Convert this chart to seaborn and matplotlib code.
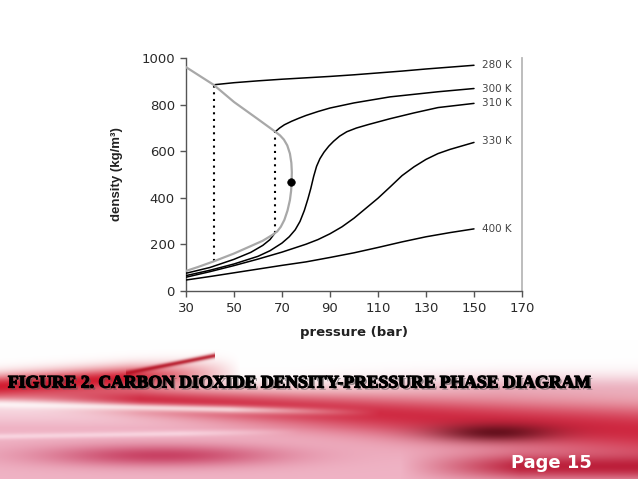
import numpy as np
import pandas as pd
import matplotlib
matplotlib.use("Agg")
import matplotlib.pyplot as plt
import matplotlib.patheffects as pe
import seaborn as sns

# ---------------- data ----------------
sat_p = [30, 35, 41.5, 50, 57, 62, 66, 68.0, 69.5, 71.0, 72.3, 73.3, 73.8, 74.0, 74.1, 73.9, 73.3, 72.2, 70.8, 69.2, 67.2, 60, 50, 41.5, 30]
sat_rho = [85, 102, 126, 160, 192, 215, 240, 255, 275, 305, 345, 390, 430, 469, 510, 550, 590, 625, 650, 668, 684, 738, 812, 886, 962]

p280 = [41.5, 50, 60, 70, 80, 90, 100, 110, 120, 130, 140, 150]
rho280 = [886, 895, 903, 910, 916, 922, 929, 937, 945, 954, 962, 970]

p300_vap = [30, 40, 50, 57, 62, 65, 67.2]
rho300_vap = [75, 100, 135, 165, 195, 220, 250]
p300_liq = [67.2, 69, 71, 74, 77, 80, 85, 90, 100, 115, 135, 150]
rho300_liq = [684, 700, 714, 729, 742, 754, 771, 786, 808, 834, 856, 870]

p310 = [30, 40, 50, 60, 65, 70, 73, 75.5, 77.5, 79.3, 80.8, 82, 83.2, 84.4, 85.8, 87.5, 89.5, 91.5, 94, 97, 101, 106, 115, 125, 135, 150]
rho310 = [65, 88, 115, 148, 172, 205, 232, 262, 298, 345, 395, 440, 492, 535, 568, 596, 622, 643, 665, 684, 700, 715, 740, 765, 788, 806]

p330 = [30, 40, 50, 60, 70, 80, 85, 90, 95, 100, 105, 110, 115, 120, 125, 130, 135, 140, 145, 150]
rho330 = [58, 82, 108, 136, 166, 200, 220, 245, 275, 312, 355, 398, 446, 495, 533, 565, 590, 608, 623, 638]

p400 = [30, 40, 50, 60, 70, 80, 90, 100, 110, 120, 130, 140, 150]
rho400 = [46, 61, 77, 93, 109, 124, 143, 163, 186, 210, 232, 250, 266]

tie_p = [41.5, 67.2]
tie_low = [126, 250]
tie_high = [886, 684]

crit_p = [73.6]
crit_rho = [469]

labels = ["280 K", "300 K", "310 K", "330 K", "400 K"]
label_rho = [971, 869, 808, 646, 265]

xticks = [30, 50, 70, 90, 110, 130, 150, 170]
yticks = [0, 200, 400, 600, 800, 1000]

caption = "FIGURE 2. CARBON DIOXIDE DENSITY-PRESSURE PHASE DIAGRAM"
page = "Page 15"

# ---------------- figure ----------------
sns.set_theme(style="ticks")
plt.rcParams["font.family"] = ["DejaVu Sans"]

W, H = 638, 479
fig = plt.figure(figsize=(W / 100, H / 100), dpi=100)

# decorative background (slide swoosh)
bg = fig.add_axes([0, 0, 1, 1], zorder=-5)
bg.set_xlim(0, W)
bg.set_ylim(H, 0)
bg.axis("off")
yy, xx = np.mgrid[340:H, 0:W].astype(float)
img = np.ones(yy.shape + (3,))


def blend(im, w, color):
    w = np.clip(w, 0, 1)[..., None]
    return im * (1 - w) + np.array(color) * w


# general pink wash
img = blend(img, 0.62 * np.clip((yy - 392) / 35, 0, 1), (0.90, 0.52, 0.63))
# soft pink top-right
img = blend(img, 0.6 * np.exp(-((yy - 388) / 14) ** 2) * np.clip((xx - 300) / 200, 0, 1), (0.90, 0.62, 0.70))
# left red behind caption
yl = 386 - 14 * np.clip(xx / 220, 0, 1)
img = blend(img, 0.95 * np.exp(-((yy - yl) / 12) ** 2) * np.clip((240 - xx) / 110, 0, 1), (0.82, 0.07, 0.15))
# main red band
yc = 392 + 38 * (xx / W) ** 1.1
wd = 9 + 20 * (xx / W)
img = blend(img, 0.9 * np.exp(-((yy - yc) / wd) ** 2) * np.clip(xx / 200 + 0.3, 0, 1), (0.80, 0.10, 0.20))
# dark core
img = blend(img, 0.8 * np.exp(-((yy - 432) / 9) ** 2 - ((xx - 495) / 60) ** 2), (0.30, 0.02, 0.06))
# white streaks
img = blend(img, 0.75 * np.exp(-((yy - (404 + 14 * xx / W)) / 4) ** 2) * np.clip((380 - xx) / 150, 0, 1), (1, 1, 1))
img = blend(img, 0.6 * np.exp(-((yy - (436 - 10 * xx / W)) / 3) ** 2) * np.clip((300 - xx) / 120, 0, 1), (1, 0.92, 0.95))
# bottom-left red-pink
img = blend(img, 0.8 * np.exp(-((yy - 455) / 11) ** 2 - ((xx - 160) / 120) ** 2), (0.75, 0.15, 0.30))
# bottom-right red
img = blend(img, 0.9 * np.exp(-((yy - 466) / 13) ** 2) * np.clip((xx - 400) / 120, 0, 1), (0.72, 0.07, 0.18))
# thin swoosh top-left
yc3 = 372 - 16 * ((xx - 130) / 80)
img = blend(img, 0.85 * np.exp(-((yy - yc3) / 2.5) ** 2) * ((xx > 125) & (xx < 215)), (0.70, 0.05, 0.12))
bg.imshow(img, extent=(0, W, H, 340), aspect="auto", interpolation="bilinear")

# chart axes
ax = fig.add_axes([186 / W, 1 - 290.7 / H, (522 - 186) / W, (290.7 - 58.3) / H])
ax.set_facecolor("none")


def line(p, r, **kw):
    df = pd.DataFrame({"p": p, "rho": r})
    sns.lineplot(data=df, x="p", y="rho", sort=False, estimator=None, ax=ax, **kw)


for p, r in [(p400, rho400), (p330, rho330), (p310, rho310), (p300_vap, rho300_vap),
             (p300_liq, rho300_liq), (p280, rho280)]:
    line(p, r, color="black", lw=1.1, zorder=3)
line(sat_p, sat_rho, color="#a8a8a8", lw=1.6, zorder=4)

for tp, lo, hi in zip(tie_p, tie_low, tie_high):
    ax.plot([tp, tp], [lo, hi], color="black", lw=1.5, ls=(0, (1, 2.2)), zorder=3)

sns.scatterplot(x=crit_p, y=crit_rho, color="black", s=30, ax=ax, zorder=5, edgecolor="black")

for lab, r in zip(labels, label_rho):
    ax.text(153.5, r, lab, fontsize=7.5, color="#444444", va="center", ha="left")

ax.set_xlim(30, 170)
ax.set_ylim(0, 1000)
ax.set_xticks(xticks)
ax.set_yticks(yticks)
ax.tick_params(direction="out", length=4, width=1, color="#555555", labelsize=9.5,
               labelcolor="#2a2a2a", pad=4)
for s in ["left", "bottom"]:
    ax.spines[s].set_color("#555555")
    ax.spines[s].set_linewidth(1.0)
ax.spines["top"].set_visible(False)
ax.spines["right"].set_color("#b8b8b8")
ax.spines["right"].set_linewidth(1.3)
ax.set_xlabel("pressure (bar)", fontsize=9.5, fontweight="bold", color="#222222", labelpad=8)
ax.set_ylabel("density (kg/m³)", fontsize=9.5, fontweight="bold", color="#222222",
              family="Liberation Sans", labelpad=13)

# caption
cap = fig.text(8 / W, 1 - 383 / H, caption, fontsize=14, fontweight="bold",
               family="Liberation Serif", color="black", ha="left", va="center",
               path_effects=[pe.withSimplePatchShadow(offset=(1.5, -1.5), shadow_rgbFace="#555555", alpha=0.6),
                             pe.Stroke(linewidth=0.9, foreground="black"),
                             pe.Normal()])
fig.canvas.draw()
wpx = cap.get_window_extent().width
cap.set_fontsize(14 * 585 / wpx)

fig.text(592 / W, 1 - 463 / H, page, fontsize=13, fontweight="bold", color="white",
         ha="right", va="center")

fig.savefig("out.png", dpi=100)
